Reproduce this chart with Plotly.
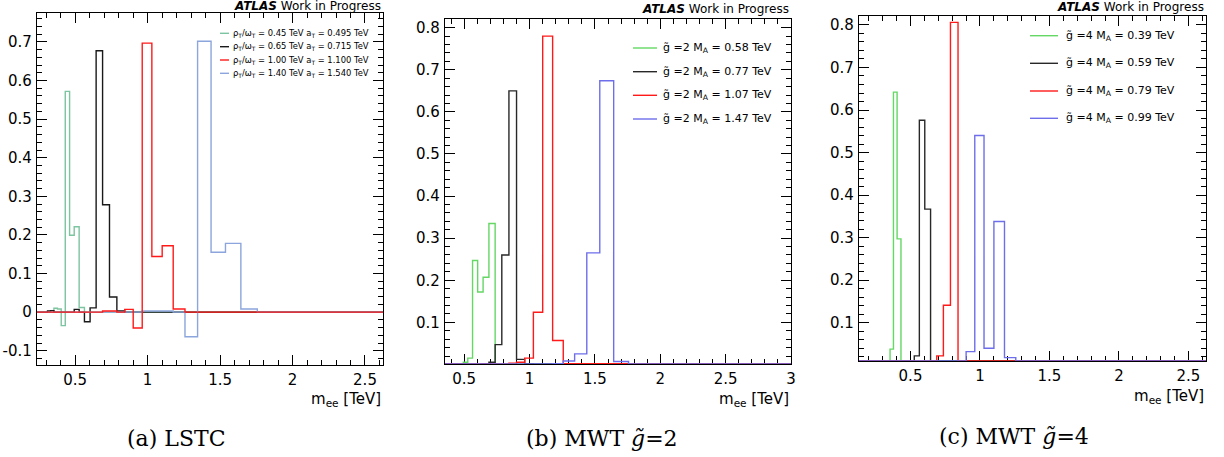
import plotly.graph_objects as go

# ---------------- data ----------------
# common log-spaced bin edges in TeV (first edge = bin index k=-20)
EDGES = [0.1295, 0.1385, 0.1480, 0.1583, 0.1692, 0.1809, 0.1934, 0.2068, 0.2211, 0.2364,
         0.2527, 0.2702, 0.2889, 0.3089, 0.3302, 0.3530, 0.3775, 0.4036, 0.4315, 0.4613,
         0.4932, 0.5273, 0.5638, 0.6028, 0.6445, 0.6890, 0.7367, 0.7876, 0.8421, 0.9003,
         0.9626, 1.0291, 1.1003, 1.1764, 1.2577, 1.3447, 1.4377, 1.5371, 1.6434, 1.7570,
         1.8785, 2.0084, 2.1473, 2.2958, 2.4545, 2.6243, 2.8058, 3.0000]
K0 = -20

# (a) LSTC : first bin index k, bin contents
lstc_labels = ["ρ<sub>T</sub>/ω<sub>T</sub> = 0.45 TeV a<sub>T</sub> = 0.495 TeV",
               "ρ<sub>T</sub>/ω<sub>T</sub> = 0.65 TeV a<sub>T</sub> = 0.715 TeV",
               "ρ<sub>T</sub>/ω<sub>T</sub> = 1.00 TeV a<sub>T</sub> = 1.100 TeV",
               "ρ<sub>T</sub>/ω<sub>T</sub> = 1.40 TeV a<sub>T</sub> = 1.540 TeV"]
lstc_start = [-5, -7, 5, 10]
lstc_green = [0.010, 0.008, -0.035, 0.572, 0.199, 0.221, 0.012]
lstc_black = [0.003, 0.004, 0.0, 0.0, 0.0, 0.0, 0.0, 0.007, 0.0, -0.025, 0.011, 0.677, 0.278, 0.039, 0.003]
lstc_red = [0.003, 0.003, 0.0, 0.007, -0.041, 0.697, 0.144, 0.172, 0.008]
lstc_blue = [0.003, 0.003, 0.003, 0.0, -0.064, 0.702, 0.155, 0.178, 0.008]

# (b) MWT g~=2
mwt2_labels = ["g̃ =2 M<sub>A</sub> = 0.58 TeV", "g̃ =2 M<sub>A</sub> = 0.77 TeV",
               "g̃ =2 M<sub>A</sub> = 1.07 TeV", "g̃ =2 M<sub>A</sub> = 1.47 TeV"]
mwt2_start = [0, 4, 8, 13]
mwt2_green = [0.005, 0.015, 0.247, 0.172, 0.207, 0.335]
mwt2_black = [0.002, 0.005, 0.047, 0.260, 0.650, 0.012, 0.002]
mwt2_red = [0.003, 0.005, 0.015, 0.124, 0.780, 0.057, 0.002, 0.002, 0.002, 0.002, 0.002]
mwt2_blue = [0.002, 0.008, 0.025, 0.265, 0.674, 0.007]

# (c) MWT g~=4
mwt4_labels = ["g̃ =4 M<sub>A</sub> = 0.39 TeV", "g̃ =4 M<sub>A</sub> = 0.59 TeV",
               "g̃ =4 M<sub>A</sub> = 0.79 TeV", "g̃ =4 M<sub>A</sub> = 0.99 TeV"]
mwt4_start = [-5, 0, 5, 9]
mwt4_green = [0.038, 0.642, 0.297]
mwt4_black = [0.008, 0.022, 0.576, 0.367]
mwt4_red = [0.022, 0.141, 0.806, 0.002, 0.002, 0.002, 0.002, 0.002, 0.002]
mwt4_blue = [0.032, 0.540, 0.040, 0.338, 0.018]

y_ticks_a = [-0.1, 0, 0.1, 0.2, 0.3, 0.4, 0.5, 0.6, 0.7]
y_ticks_bc = [0.1, 0.2, 0.3, 0.4, 0.5, 0.6, 0.7, 0.8]

# ---------------- styling / layout ----------------
W, H = 1224, 457
COL_A = ["rgb(125,196,160)", "rgb(25,25,25)", "rgb(255,25,25)", "rgb(140,165,220)"]
COL_BC = ["rgb(100,215,100)", "rgb(40,40,40)", "rgb(255,25,25)", "rgb(110,110,235)"]

panels = [
    dict(name="a", frame=(37, 383, 13, 365), xr=(0.2364, 2.6243), yr=(-0.137, 0.775),
         series=[lstc_green, lstc_black, lstc_red, lstc_blue], start=lstc_start,
         labels=lstc_labels, colors=COL_A, order=[0, 1, 3, 2], clamp=False,
         yticks=y_ticks_a, xticks=[0.5, 1, 1.5, 2, 2.5],
         atlas_y=5.5, leg_x=(220, 229, 231), leg_y=[33.3, 46.7, 60, 73.3], leg_size=8.4,
         title_y=399, caption="(a) LSTC", cap_x=176, cap_y=438),
    dict(name="b", frame=(445, 791, 19.3, 364), xr=(0.353, 3.0), yr=(0.001, 0.82),
         series=[mwt2_green, mwt2_black, mwt2_red, mwt2_blue], start=mwt2_start,
         labels=mwt2_labels, colors=COL_BC, order=[0, 1, 2, 3], clamp=True,
         yticks=y_ticks_bc, xticks=[0.5, 1, 1.5, 2, 2.5, 3],
         atlas_y=8.5, leg_x=(633, 657, 661), leg_y=[48, 71.7, 95.3, 119], leg_size=11,
         title_y=399, caption="(b) MWT <i>g̃</i>=2", cap_x=602, cap_y=438),
    dict(name="c", frame=(859, 1205.7, 16, 361), xr=(0.1295, 2.6243), yr=(0.01, 0.821),
         series=[mwt4_green, mwt4_black, mwt4_red, mwt4_blue], start=mwt4_start,
         labels=mwt4_labels, colors=COL_BC, order=[0, 1, 2, 3], clamp=True,
         yticks=y_ticks_bc, xticks=[0.5, 1, 1.5, 2, 2.5],
         atlas_y=7, leg_x=(1030, 1058, 1064), leg_y=[35.7, 63.3, 91, 118.3], leg_size=11,
         title_y=396, caption="(c) MWT <i>g̃</i>=4", cap_x=1014, cap_y=436),
]

def px(x):
    return x / W

def py(y):
    return 1 - y / H

def fmt(v):
    return "0" if v == 0 else ("%g" % v)

fig = go.Figure()
annotations = []
shapes = []
tickfont = dict(family="DejaVu Sans", size=15, color="black")

for i, p in enumerate(panels):
    sfx = "" if i == 0 else str(i + 1)
    xa, ya = "x" + sfx, "y" + sfx
    nb = len(EDGES) - 1
    for j in p["order"]:
        full = [0.0] * nb
        for m, v in enumerate(p["series"][j]):
            full[p["start"][j] - K0 + m] = v
        if p["clamp"]:
            full = [max(v, p["yr"][0]) for v in full]
        fig.add_trace(go.Scatter(
            x=EDGES, y=full + [full[-1]], mode="lines", line_shape="hv",
            line=dict(color=p["colors"][j], width=1.4), xaxis=xa, yaxis=ya,
            showlegend=False, hoverinfo="skip"))

    x0, x1, y0, y1 = p["frame"]
    common = dict(showline=True, linecolor="black", linewidth=1.2, mirror="ticks",
                  ticks="inside", ticklen=10, tickwidth=1.2, tickcolor="black",
                  showgrid=False, zeroline=False, tickfont=tickfont, layer="below traces",
                  fixedrange=True, automargin=False)
    fig.update_layout(**{
        "xaxis" + sfx: dict(common, domain=[px(x0), px(x1)], range=list(p["xr"]), anchor=ya,
                            tickmode="array", tickvals=p["xticks"],
                            ticktext=[fmt(v) for v in p["xticks"]], ticklabelstandoff=1,
                            minor=dict(ticks="inside", ticklen=5, tickwidth=1.2,
                                       tickcolor="black", dtick=0.1, tick0=0, showgrid=False)),
        "yaxis" + sfx: dict(common, domain=[py(y1), py(y0)], range=list(p["yr"]), anchor=xa,
                            tickmode="array", tickvals=p["yticks"],
                            ticktext=[fmt(v) for v in p["yticks"]], ticklabelstandoff=1,
                            minor=dict(ticks="inside", ticklen=5, tickwidth=1.2,
                                       tickcolor="black", dtick=0.02, tick0=0, showgrid=False)),
    })

    # ATLAS label
    annotations.append(dict(x=px(x1), y=py(p["atlas_y"]), xref="paper", yref="paper",
                            xanchor="right", yanchor="middle", showarrow=False,
                            text="<b><i>ATLAS</i></b> Work in Progress",
                            font=dict(family="DejaVu Sans", size=12, color="black")))
    # axis title
    annotations.append(dict(x=px(x1), y=py(p["title_y"]), xref="paper", yref="paper",
                            xanchor="right", yanchor="middle", showarrow=False,
                            text="m<sub>ee</sub> [TeV]",
                            font=dict(family="DejaVu Sans", size=15, color="black")))
    # caption
    annotations.append(dict(x=px(p["cap_x"]), y=py(p["cap_y"]), xref="paper", yref="paper",
                            xanchor="center", yanchor="middle", showarrow=False,
                            text=p["caption"],
                            font=dict(family="DejaVu Serif", size=22, color="black")))
    # legend
    lx0, lx1, tx = p["leg_x"]
    for j in range(4):
        yy = p["leg_y"][j]
        shapes.append(dict(type="line", xref="paper", yref="paper",
                           x0=px(lx0), x1=px(lx1), y0=py(yy), y1=py(yy),
                           line=dict(color=p["colors"][j], width=1.4)))
        annotations.append(dict(x=px(tx), y=py(yy), xref="paper", yref="paper",
                                xanchor="left", yanchor="middle", showarrow=False,
                                text=p["labels"][j],
                                font=dict(family="DejaVu Sans", size=p["leg_size"], color="black")))

fig.update_layout(width=W, height=H,
                  margin=dict(l=0, r=0, t=0, b=0, pad=0, autoexpand=False),
                  paper_bgcolor="white", plot_bgcolor="white",
                  annotations=annotations, shapes=shapes, showlegend=False)

# remove the browser's default page margin so the figure sits at the window origin
fig.write_html("out.html", config={"displayModeBar": False},
               post_script="document.body.style.margin='0';document.body.style.overflow='hidden';")
